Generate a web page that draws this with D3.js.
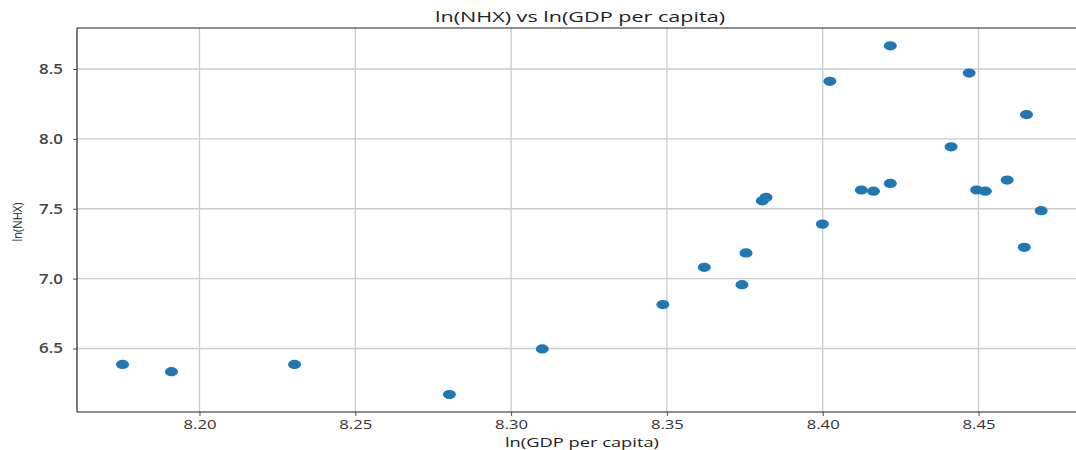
<!DOCTYPE html>
<html>
<head>
<meta charset="utf-8">
<script src="https://cdn.jsdelivr.net/npm/d3@7"></script>
<style>
  html, body { margin: 0; padding: 0; background: #fff; }
  svg { display: block; }
  text { font-family: "Open Sans", sans-serif; }
</style>
</head>
<body>
<svg id="chart" width="1076" height="450"></svg>
<script>
const titleText = "ln(NHX) vs ln(GDP per capita)";
const xLabel = "ln(GDP per capita)";
const yLabel = "ln(NHX)";

const lnGdp = [8.1753, 8.1910, 8.2305, 8.2802, 8.3100, 8.3487, 8.3620, 8.3741, 8.3754,
               8.3806, 8.3818, 8.3999, 8.4023, 8.4124, 8.4163, 8.4217, 8.4217, 8.4412,
               8.4470, 8.4494, 8.4522, 8.4592, 8.4654, 8.4647, 8.4701];
const lnNhx = [6.386, 6.334, 6.386, 6.171, 6.497, 6.814, 7.081, 6.957, 7.184,
               7.557, 7.581, 7.390, 8.412, 7.634, 7.626, 7.681, 8.666, 7.943,
               8.471, 7.634, 7.626, 7.705, 8.174, 7.224, 7.486];

const xTicks = [8.20, 8.25, 8.30, 8.35, 8.40, 8.45];
const yTicks = [6.5, 7.0, 7.5, 8.0, 8.5];

const svg = d3.select("#chart");
const plotLeft = 77, plotRight = 1082, plotTop = 28, plotBottom = 412;

const x = d3.scaleLinear().domain([8.20, 8.45]).range([199.5, 978.5]);
const y = d3.scaleLinear().domain([6.5, 8.5]).range([348.5, 69]);

// gridlines
const grid = svg.append("g");
grid.selectAll("line.vx").data(xTicks).join("line")
  .attr("x1", d => x(d)).attr("x2", d => x(d))
  .attr("y1", plotTop).attr("y2", plotBottom)
  .attr("stroke", "#cccccc").attr("stroke-width", 1.3);
grid.selectAll("line.hy").data(yTicks).join("line")
  .attr("x1", plotLeft).attr("x2", plotRight)
  .attr("y1", d => y(d)).attr("y2", d => y(d))
  .attr("stroke", "#cccccc").attr("stroke-width", 1.3);

// axes
const xAxis = d3.axisBottom(x).tickValues(xTicks).tickFormat(d3.format(".2f")).tickSize(4).tickSizeOuter(0);
const gx = svg.append("g").attr("transform", `translate(0,${plotBottom})`).call(xAxis);
gx.select(".domain").remove();
gx.selectAll(".tick line").attr("stroke", "#555");
gx.selectAll(".tick text").attr("fill", "#333").attr("font-size", 12)
  .attr("font-family", "Open Sans").attr("y", 17).attr("dy", 0)
  .attr("textLength", 33).attr("lengthAdjust", "spacingAndGlyphs");

const yAxis = d3.axisLeft(y).tickValues(yTicks).tickFormat(d3.format(".1f")).tickSize(4).tickSizeOuter(0);
const gy = svg.append("g").attr("transform", `translate(${plotLeft},0)`).call(yAxis);
gy.select(".domain").remove();
gy.selectAll(".tick line").attr("stroke", "#555");
gy.selectAll(".tick text").attr("fill", "#444").attr("font-size", 14)
  .attr("font-family", "Open Sans").attr("font-weight", "600").attr("x", -14)
  .attr("textLength", 24).attr("lengthAdjust", "spacingAndGlyphs");

// frame
svg.append("line").attr("x1", plotLeft).attr("x2", plotRight).attr("y1", plotTop).attr("y2", plotTop).attr("stroke", "#222").attr("stroke-width", 1);
svg.append("line").attr("x1", plotLeft).attr("x2", plotRight).attr("y1", plotBottom).attr("y2", plotBottom).attr("stroke", "#222").attr("stroke-width", 1.2);
svg.append("line").attr("x1", plotLeft).attr("x2", plotLeft).attr("y1", plotTop).attr("y2", plotBottom).attr("stroke", "#222").attr("stroke-width", 1.2);

// points
svg.append("g").selectAll("ellipse").data(lnGdp.map((v, i) => [v, lnNhx[i]])).join("ellipse")
  .attr("cx", d => x(d[0])).attr("cy", d => y(d[1]))
  .attr("rx", 6.5).attr("ry", 4.6)
  .attr("fill", "#1f77b4");

// labels
svg.append("text").attr("x", 580).attr("y", 22).attr("text-anchor", "middle")
  .attr("font-size", 15).attr("fill", "#222").attr("textLength", 290).attr("lengthAdjust", "spacingAndGlyphs")
  .text(titleText);
svg.append("text").attr("x", 582).attr("y", 447).attr("text-anchor", "middle")
  .attr("font-size", 13).attr("fill", "#222").attr("textLength", 154).attr("lengthAdjust", "spacingAndGlyphs")
  .text(xLabel);
svg.append("text").attr("transform", "translate(22,222) rotate(-90)").attr("text-anchor", "middle")
  .attr("font-size", 13).attr("fill", "#222").attr("textLength", 39).attr("lengthAdjust", "spacingAndGlyphs")
  .text(yLabel);
</script>
</body>
</html>
